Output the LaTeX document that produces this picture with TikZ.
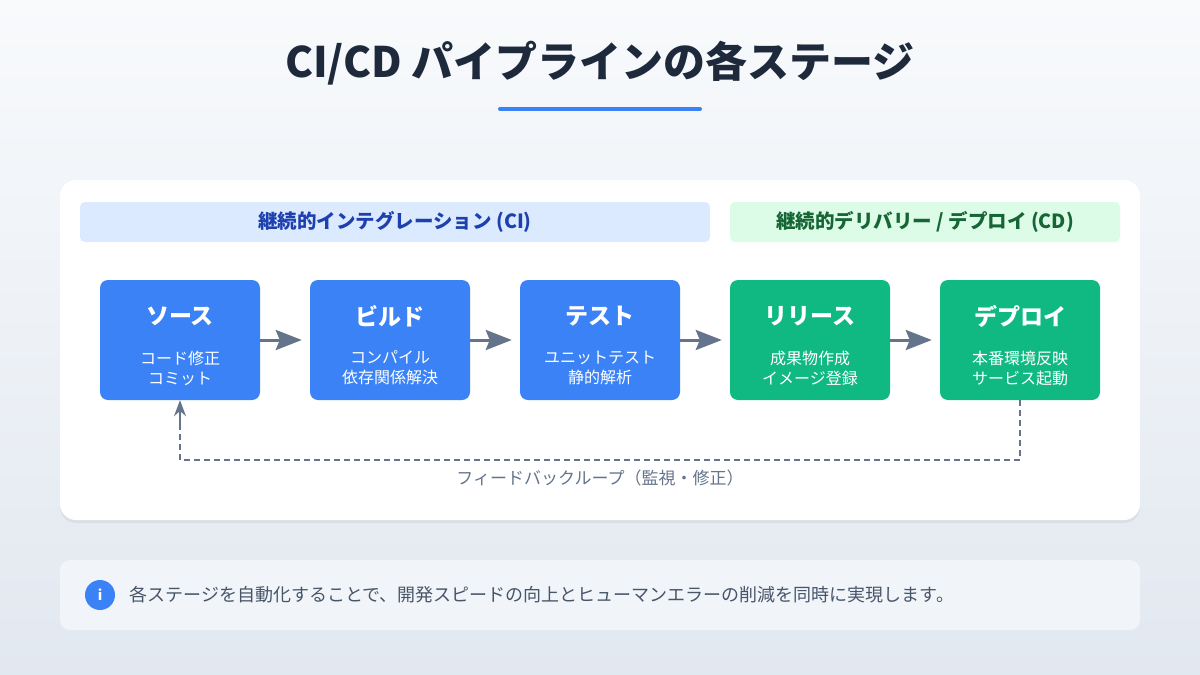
\documentclass[tikz,border=0pt]{standalone}
\usepackage{fontspec}
\setmainfont{Noto Sans CJK JP}
\usetikzlibrary{arrows.meta,shadows}
\definecolor{bgA}{HTML}{F8FAFC}\definecolor{bgB}{HTML}{E2E8F0}
\definecolor{ttl}{HTML}{1E293B}\definecolor{blu}{HTML}{3B82F6}
\definecolor{grn}{HTML}{10B981}\definecolor{gry}{HTML}{64748B}
\definecolor{cih}{HTML}{DBEAFE}\definecolor{cit}{HTML}{1E40AF}
\definecolor{cdh}{HTML}{DCFCE7}\definecolor{cdt}{HTML}{166534}
\definecolor{info}{HTML}{F1F5F9}\definecolor{infot}{HTML}{475569}
\tikzset{
 stage/.style={rounded corners=8pt,minimum width=160pt,minimum height=120pt,inner sep=0},
 st/.style={font=\fontsize{23}{26}\selectfont\bfseries,text=white},
 sub/.style={font=\fontsize{16}{20}\selectfont,text=white,align=center},
 arr/.style={draw=gry,line width=3pt,shorten >=8pt,-{Stealth[length=26pt,width=20pt,inset=4pt]}},
 hdr/.style={rounded corners=5pt,minimum height=40pt,inner sep=0,font=\fontsize{19.5}{22}\selectfont\bfseries}
}
\begin{document}
\begin{tikzpicture}[x=1pt,y=-1pt]
\shade[top color=bgA,bottom color=bgB,shading angle=0] (0,0) rectangle (1200,675);
\useasboundingbox (0,0) rectangle (1200,675);
\node[font=\fontsize{42}{46}\selectfont\bfseries,text=ttl] (title) at (600,63) {CI/CD パイプラインの各ステージ};
\draw[blu,line width=4pt,line cap=round] (500,109) -- (700,109);
\fill[rounded corners=16pt,white,drop shadow={opacity=0.12,shadow xshift=0pt,shadow yshift=-3pt}] (60,180) rectangle (1140,520);
\node[hdr,fill=cih,text=cit,minimum width=630pt] (ci) at (395,222) {継続的インテグレーション (CI)};
\node[hdr,fill=cdh,text=cdt,minimum width=390pt] (cd) at (925,222) {継続的デリバリー / デプロイ (CD)};
\foreach \n/\x/\c/\t/\a/\b in {s1/180/blu/ソース/コード修正/コミット, s2/390/blu/ビルド/コンパイル/依存関係解決, s3/600/blu/テスト/ユニットテスト/静的解析, s4/810/grn/リリース/成果物作成/イメージ登録, s5/1020/grn/デプロイ/本番環境反映/サービス起動}{
 \node[stage,fill=\c] (\n) at (\x,340) {};
 \node[st] (\n t) at (\x,316) {\t};
 \node[sub] (\n s) at (\x,368) {\a\\\b};
}
\draw[arr] (s1) -- (s2); \draw[arr] (s2) -- (s3); \draw[arr] (s3) -- (s4); \draw[arr] (s4) -- (s5);
\coordinate (f1) at (1020,460); \coordinate (f2) at (180,460);
\draw[gry,line width=1.5pt,dash pattern=on 6pt off 4pt] (s5.south) -- (f1) -- (f2) -- (180,415);
\draw[gry,line width=1.5pt,-{Stealth[length=16pt,width=12pt]}] (180,425) -- (s1.south);
\node[font=\fontsize{17}{20}\selectfont,text=gry] (fl) at (600,478) {フィードバックループ（監視・修正）};
\fill[rounded corners=10pt,info] (60,560) rectangle (1140,630);
\node[circle,fill=blu,minimum size=30pt,inner sep=0,text=white,font=\fontsize{14}{16}\selectfont\bfseries] (ic) at (100,595) {i};
\node[anchor=west,font=\fontsize{18}{20}\selectfont,text=infot] (it) at (126,595) {各ステージを自動化することで、開発スピードの向上とヒューマンエラーの削減を同時に実現します。};
\end{tikzpicture}
\end{document}
